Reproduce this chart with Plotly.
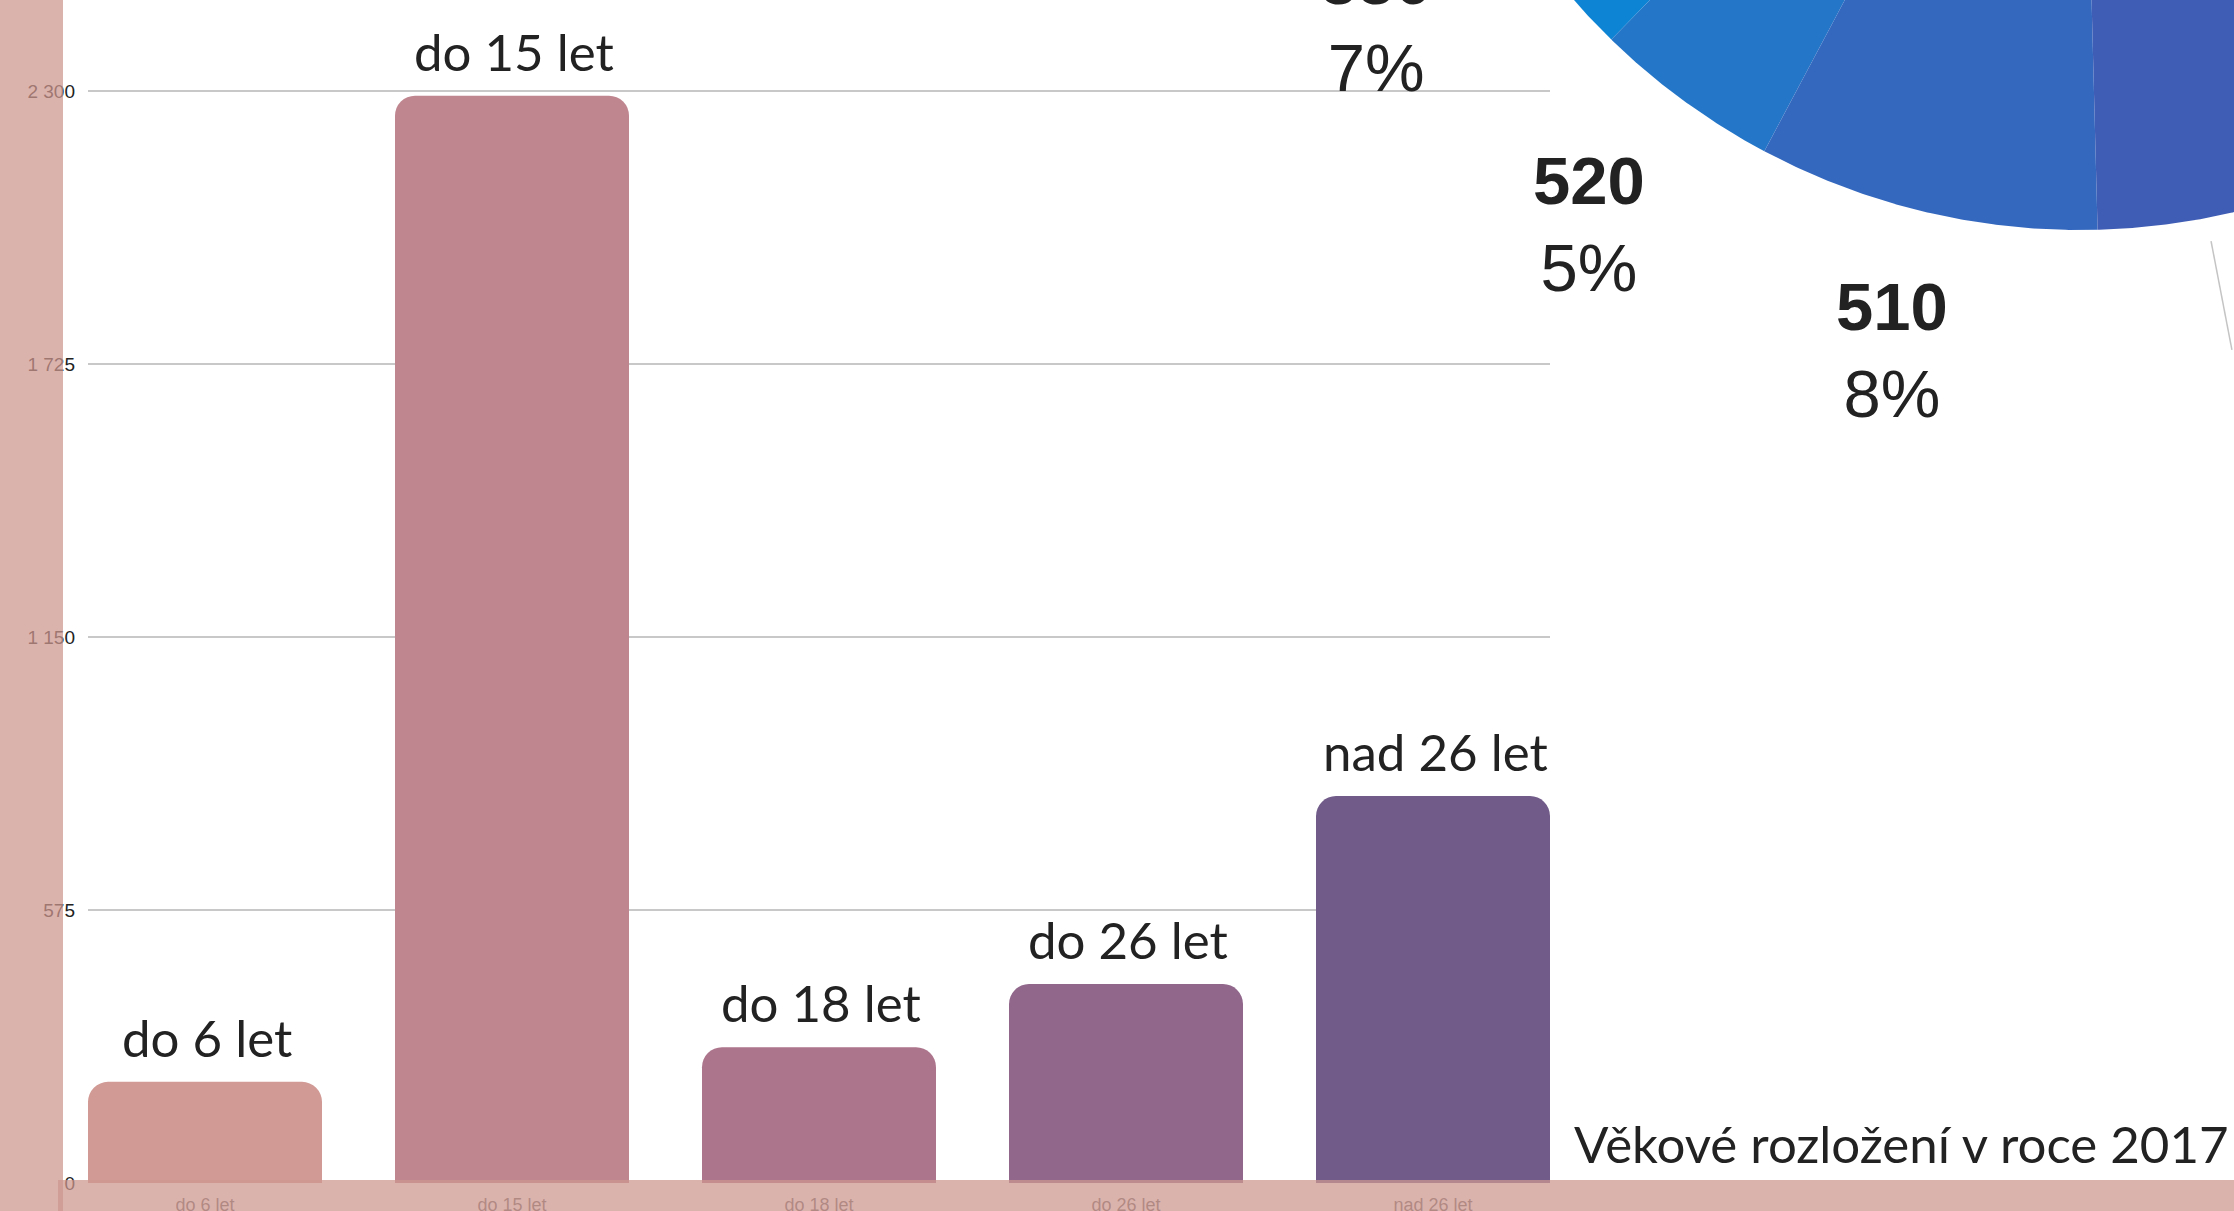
import numpy as np
import plotly.graph_objects as go

W, H = 2234, 1211

# ---------------- data ----------------
categories = ["do 6 let", "do 15 let", "do 18 let", "do 26 let", "nad 26 let"]
counts = [213, 2290, 286, 419, 815]
bar_colors = ["#d19a95", "#c08690", "#ad758c", "#91678b", "#705b89"]
y_ticks = [0, 575, 1150, 1725, 2300]

pie_numbers = ["550", "520", "510", ""]
pie_percent_text = ["7%", "5%", "8%", ""]
pie_shares = [6.6, 4.5, 8.2, 5.2]          # percent of the full circle
pie_colors = ["#0e84d5", "#2476c8", "#3468bf", "#3f5db5"]

title_text = "Věkové rozložení v roce 2017"

# ---------------- layout constants ----------------
PLOT_L, PLOT_R = 88, 1550          # px
ZERO_Y, TOP_TICK_Y = 1183, 91      # px
BARGAP = 73 / 307
PIE_CX, PIE_CY, PIE_R = 2080, -442, 672   # px
LABEL_DIST = [1.262, 1.24, 1.221]          # label distance (in radii) per slice
BAND_COLOR = "rgb(206,151,143)"
BAND_OPACITY = 0.73

fig = go.Figure()

# ---------------- bar chart ----------------
fig.add_trace(go.Bar(
    x=categories, y=counts,
    marker=dict(color=bar_colors, line=dict(width=0), cornerradius=20),
    hoverinfo="skip", xaxis="x", yaxis="y",
))

pxu = (ZERO_Y - TOP_TICK_Y) / y_ticks[-1]
y_top = ZERO_Y / pxu

annotations = []
for c, v in zip(categories, counts):
    annotations.append(dict(
        x=c, y=v, xref="x", yref="y", text=c, showarrow=False,
        yanchor="bottom", xanchor="center", yshift=12, xshift=2,
        font=dict(family="Lato", size=51, color="#222222"),
    ))

annotations.append(dict(
    x=2231 / W, y=35 / H, xref="paper", yref="paper", text=title_text,
    showarrow=False, xanchor="right", yanchor="bottom",
    font=dict(family="Lato", size=51, color="#222222"),
))

# ---------------- pie (partially visible) ----------------
start_deg = 270 + 1.5 - sum(pie_shares[:3]) * 3.6
a = start_deg
mids = []
for share, col in zip(pie_shares, pie_colors):
    a0, a1 = a, a + share * 3.6
    t = np.radians(np.linspace(a0, a1, 120))
    xs = np.concatenate([[0], np.cos(t), [0]])
    ys = np.concatenate([[0], np.sin(t), [0]])
    fig.add_trace(go.Scatter(
        x=xs, y=ys, mode="lines", fill="toself", fillcolor=col,
        line=dict(width=0, color=col), hoverinfo="skip",
        xaxis="x2", yaxis="y2", showlegend=False,
    ))
    mids.append(np.radians((a0 + a1) / 2))
    a = a1

# connector for the slice whose label is off-screen
m4 = mids[3]
fig.add_trace(go.Scatter(
    x=[1.035 * np.cos(m4), 1.2 * np.cos(m4)],
    y=[1.035 * np.sin(m4), 1.2 * np.sin(m4)],
    mode="lines", line=dict(color="#c4c4c4", width=1.5),
    hoverinfo="skip", xaxis="x2", yaxis="y2", showlegend=False,
))

lab_x, lab_y, lab_t = [], [], []
for n, p, m, d in zip(pie_numbers, pie_percent_text, mids, LABEL_DIST):
    if not p:
        continue
    lab_x.append(d * np.cos(m))
    lab_y.append(d * np.sin(m))
    lab_t.append(f"<b>{n}</b><br>{p}")
fig.add_trace(go.Scatter(
    x=lab_x, y=lab_y, text=lab_t, mode="text", textposition="middle center",
    textfont=dict(family="Liberation Sans, Arial", size=67, color="#222222"),
    hoverinfo="skip", xaxis="x2", yaxis="y2", showlegend=False,
))

# ---------------- overlay bands ----------------
shapes = [
    dict(type="rect", xref="paper", yref="paper", x0=0, x1=63 / W, y0=0, y1=1,
         fillcolor=BAND_COLOR, opacity=BAND_OPACITY, line=dict(width=0), layer="above"),
    dict(type="rect", xref="paper", yref="paper", x0=58 / W, x1=1, y0=0, y1=31 / H,
         fillcolor=BAND_COLOR, opacity=BAND_OPACITY, line=dict(width=0), layer="above"),
]

fig.update_layout(
    width=W, height=H, autosize=False,
    margin=dict(l=0, r=0, t=0, b=0, pad=0, autoexpand=False),
    paper_bgcolor="white", plot_bgcolor="rgba(0,0,0,0)",
    showlegend=False, separators=", ",
    bargap=BARGAP,
    xaxis=dict(
        domain=[PLOT_L / W, PLOT_R / W], anchor="y", automargin=False,
        range=[-0.5 + BARGAP / 2, len(categories) - 0.5 - BARGAP / 2],
        showgrid=False, zeroline=False, showline=False, ticks="",
        tickfont=dict(family="Liberation Sans, Arial", size=18, color="#666666"),
        ticklabelstandoff=9, fixedrange=True,
    ),
    yaxis=dict(
        domain=[(H - ZERO_Y) / H, 1], anchor="x", automargin=False,
        range=[0, y_top], tickvals=y_ticks, tickformat=",d",
        showgrid=True, gridcolor="#c8c8c8", gridwidth=1.6,
        zeroline=False, showline=False, ticks="",
        tickfont=dict(family="Liberation Sans, Arial", size=19, color="#222222"),
        ticklabelstandoff=12, fixedrange=True,
    ),
    xaxis2=dict(
        domain=[0, 1], anchor="y2", automargin=False,
        range=[(0 - PIE_CX) / PIE_R, (W - PIE_CX) / PIE_R],
        visible=False, fixedrange=True,
    ),
    yaxis2=dict(
        domain=[0, 1], anchor="x2", automargin=False,
        range=[-(H - PIE_CY) / PIE_R, -(0 - PIE_CY) / PIE_R],
        visible=False, fixedrange=True,
    ),
    annotations=annotations,
    shapes=shapes,
)

fig.write_html(
    "out.html",
    config={"displayModeBar": False},
    post_script="document.body.style.margin='0';document.body.style.overflow='hidden';",
)
